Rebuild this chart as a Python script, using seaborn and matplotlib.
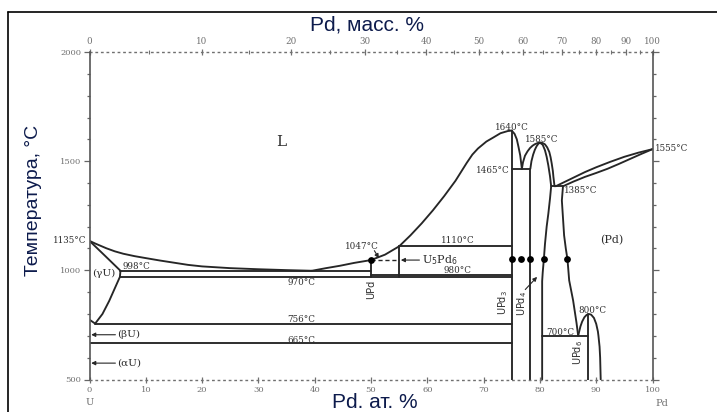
import numpy as np
import pandas as pd
import matplotlib
matplotlib.use("Agg")
import matplotlib.pyplot as plt
import seaborn as sns
from matplotlib.lines import Line2D

# ---------------- data (x = at.% Pd, T = °C) ----------------
liquidus_U = [(0, 1135), (1, 1123), (2, 1112), (3, 1101), (4.5, 1087), (6, 1076), (8, 1065),
              (10, 1056), (12.5, 1045), (15, 1035), (17.5, 1025), (20, 1018), (25, 1010),
              (30, 1005), (35, 1001), (39.5, 998)]
gammaU_boundary = [(0, 1135), (2.7, 1068), (5.5, 998), (5.4, 970), (4.5, 918),
                   (3.5, 860), (2.3, 800), (1, 756)]
betaU_gammaU = [(0, 774), (1, 756)]
liquidus_mid = [(39.5, 998), (42, 1010), (44.5, 1021), (47, 1034), (50, 1047), (52.5, 1072),
                (55, 1110), (57, 1160), (59, 1215), (61, 1275), (63, 1340), (65, 1410),
                (67, 1492), (68, 1530), (69, 1558), (70.5, 1590), (71.7, 1608), (73, 1628),
                (74.3, 1638), (75, 1640)]
liquidus_UPd3_right = [(75, 1640), (75.5, 1625), (75.9, 1600), (76.2, 1565), (76.5, 1527),
                       (76.8, 1465)]
dome_liquidus = [(76.8, 1465), (77.0, 1495), (77.35, 1525), (77.8, 1545), (78.24, 1560),
                 (78.7, 1571), (79.13, 1578), (79.6, 1583), (80.0, 1585), (80.5, 1583),
                 (80.9, 1577), (81.3, 1563), (81.67, 1542), (81.9, 1518), (82.1, 1489),
                 (82.3, 1455), (82.4, 1428), (82.6, 1385)]
dome_solidus_left = [(78.3, 1465), (78.5, 1500), (78.8, 1530), (79.1, 1552), (79.4, 1568),
                     (79.7, 1579), (80.0, 1585)]
Pd_left_boundary = [(80.0, 1585), (80.5, 1575), (80.9, 1550), (81.2, 1520), (81.5, 1480),
                    (81.8, 1430), (82.0, 1385), (81.8, 1330), (81.5, 1260), (81.2, 1200),
                    (80.9, 1120), (80.7, 1050), (80.5, 990), (80.4, 950), (80.4, 700),
                    (80.4, 500)]
Pd_right_boundary = [(84.1, 1385), (83.9, 1320), (84.1, 1240), (84.3, 1160), (84.6, 1100),
                     (84.9, 1050), (85.2, 954), (85.9, 862), (86.5, 760), (86.8, 700)]
UPd6_dome = [(86.8, 700), (87.0, 722), (87.2, 743), (87.5, 765), (87.9, 785), (88.3, 796),
             (88.7, 800), (89.1, 797), (89.6, 782), (90.0, 755), (90.3, 720), (90.4, 700),
             (90.6, 650), (90.7, 600), (90.8, 500)]
liquidus_Pd = [(82.8, 1385), (84, 1400), (86, 1425), (88, 1450), (90, 1472), (92.5, 1497),
               (95, 1520), (97.5, 1539), (100, 1555)]
solidus_Pd = [(84.1, 1385), (86, 1407), (88, 1428), (90, 1446), (92, 1465), (94, 1487),
              (96, 1510), (98, 1533), (100, 1555)]

# horizontal isotherms: (T, x_start, x_end)
isotherms = [(998, 5.5, 50), (970, 5.4, 75), (980, 50, 75), (1110, 55, 75),
             (1465, 75, 78.3), (1385, 82.0, 84.1), (756, 1, 75), (665, 0, 75),
             (700, 80.4, 88.6)]
# vertical compound lines: (x, T_top, T_bottom)
verticals = [(50, 1047, 970), (55, 1110, 970), (75, 1640, 500), (78.3, 1465, 500),
             (88.6, 800, 500)]
dashed_1047 = [(50, 1047), (55, 1047)]
dots_x = [50, 75, 76.6, 78.3, 80.7, 84.9]
dots_T = [1047, 1050, 1050, 1050, 1050, 1050]

# text labels: (x, T, text, ha)
temp_labels = [
    (75.0, 1655, "1640°C", "center"), (80.3, 1600, "1585°C", "center"),
    (100.5, 1558, "1555°C", "left"), (74.6, 1456, "1465°C", "right"),
    (84.2, 1367, "1385°C", "left"), (65.4, 1135, "1110°C", "center"),
    (65.4, 998, "980°C", "center"), (48.3, 1110, "1047°C", "center"),
    (-0.6, 1135, "1135°C", "right"), (5.9, 1017, "998°C", "left"),
    (37.6, 945, "970°C", "center"), (37.6, 775, "756°C", "center"),
    (37.6, 680, "665°C", "center"), (83.7, 717, "700°C", "center"),
    (89.4, 818, "800°C", "center"),
]
phase_labels = [(34, 1587, "L", 11), (92.7, 1138, "(Pd)", 8), (2.6, 985, "(γU)", 7.5),
                (4.9, 705, "(βU)", 7.5), (4.9, 575, "(αU)", 7.5)]
compound_labels = [(50.0, 912, "UPd"), (73.4, 853, "UPd$_3$"), (76.8, 850, "UPd$_4$"),
                   (86.8, 624, "UPd$_6$")]
bottom_ticks = list(range(0, 101, 10))
top_ticks_wt = list(range(0, 101, 10))
M_U, M_Pd = 238.03, 106.42

# ---------------- style ----------------
sns.set_theme(style="white")
plt.rcParams["font.family"] = ["DejaVu Serif"]
plt.rcParams["mathtext.fontset"] = "dejavusans"
LINE = "#262626"
TXT = "#2e2e2e"
TICK = "#707070"
LABEL = "#0d1b4c"

fig = plt.figure(figsize=(7.17, 4.12), dpi=100)
ax = fig.add_axes([89.5 / 717, 32.5 / 412, 563 / 717, 327.5 / 412])

curves = {
    "liquidus_U": liquidus_U, "gammaU": gammaU_boundary, "bg": betaU_gammaU,
    "liq_mid": liquidus_mid, "liq3r": liquidus_UPd3_right, "dome_l": dome_liquidus,
    "dome_s": dome_solidus_left, "pd_left": Pd_left_boundary, "pd_right": Pd_right_boundary,
    "upd6": UPd6_dome, "liq_pd": liquidus_Pd, "sol_pd": solidus_Pd,
}
for i, (t, x0, x1) in enumerate(isotherms):
    curves[f"iso{i}"] = [(x0, t), (x1, t)]
for i, (x, t0, t1) in enumerate(verticals):
    curves[f"vert{i}"] = [(x, t0), (x, t1)]

rows = []
for name, pts in curves.items():
    for k, (x, t) in enumerate(pts):
        rows.append((name, k, x, t))
df = pd.DataFrame(rows, columns=["curve", "order", "x", "T"])
sns.lineplot(data=df, x="x", y="T", units="curve", estimator=None, sort=False,
             color=LINE, lw=1.35, ax=ax, legend=False)

dd = pd.DataFrame(dashed_1047, columns=["x", "T"])
sns.lineplot(data=dd, x="x", y="T", color=LINE, lw=1.0, linestyle=(0, (3, 2)),
             ax=ax, legend=False, sort=False)
sns.scatterplot(x=dots_x, y=dots_T, color="black", s=24, ax=ax, zorder=5,
                edgecolor="black", linewidth=0)

ax.set_xlim(0, 100)
ax.set_ylim(500, 2000)
ax.set_xlabel("")
ax.set_ylabel("")

# text
for x, t, s, ha in temp_labels:
    ax.text(x, t, s, ha=ha, va="center", fontsize=6.3, color=TXT, family="DejaVu Serif")
for x, t, s, fs in phase_labels:
    ax.text(x, t, s, ha="left" if s in ("(βU)", "(αU)") else "center", va="center",
            fontsize=fs, color=TXT, family="DejaVu Serif")
for x, t, s in compound_labels:
    ax.text(x, t, s, ha="center", va="center", rotation=90, fontsize=7, color=TXT,
            family="DejaVu Sans")
ax.text(59.0, 1045, "U$_5$Pd$_6$", ha="left", va="center", fontsize=8, color=TXT)
ax.text(0, 395, "U", ha="center", va="center", fontsize=7, color=TICK, clip_on=False)
ax.text(101.6, 390, "Pd", ha="center", va="center", fontsize=7, color=TICK, clip_on=False)

arrow = dict(arrowstyle="-|>", lw=0.8, color=LINE, mutation_scale=6, shrinkA=0, shrinkB=0)
ax.annotate("", xy=(0.3, 705), xytext=(4.6, 705), arrowprops=arrow)
ax.annotate("", xy=(0.3, 575), xytext=(4.6, 575), arrowprops=arrow)
ax.annotate("", xy=(55.3, 1047), xytext=(58.6, 1047), arrowprops=arrow)
ax.annotate("", xy=(79.5, 970), xytext=(77.4, 912), arrowprops=arrow)
ax.annotate("", xy=(51.4, 1056), xytext=(50.6, 1090), arrowprops=arrow)

# axes / ticks
for side in ("left", "right"):
    ax.spines[side].set_color("#555555")
    ax.spines[side].set_linewidth(1.2)
ax.spines["top"].set_visible(False)
ax.spines["bottom"].set_color(TICK)
ax.spines["bottom"].set_linewidth(1.0)
ax.spines["bottom"].set_linestyle((0, (1, 3)))

ax.set_yticks([500, 1000, 1500, 2000])
ax.set_yticks(np.arange(500, 2001, 100), minor=True)
ax.tick_params(axis="y", which="both", left=True, right=True, labelright=False,
               direction="out", color="#666666", labelcolor=TICK, labelsize=6, width=0.9)
ax.tick_params(axis="y", which="major", length=4, pad=2)
ax.tick_params(axis="y", which="minor", length=2.5)
ax.set_xticks(bottom_ticks)
ax.tick_params(axis="x", which="major", bottom=True, direction="inout", length=4,
               color=TICK, labelcolor=TICK, labelsize=6, width=0.9, pad=3)
for lab in ax.get_yticklabels() + ax.get_xticklabels():
    lab.set_family("DejaVu Serif")


def at2wt(x):
    x = np.asarray(x, dtype=float)
    with np.errstate(all="ignore"):
        return 100 * x * M_Pd / (x * M_Pd + (100 - x) * M_U)


def wt2at(w):
    w = np.asarray(w, dtype=float)
    with np.errstate(all="ignore"):
        a = w / M_Pd
        b = (100 - w) / M_U
        return 100 * a / (a + b)


sec = ax.secondary_xaxis("top", functions=(at2wt, wt2at))
sec.set_xticks(top_ticks_wt)
sec.set_xticks(list(range(5, 100, 10)), minor=True)
sec.spines["top"].set_color(TICK)
sec.spines["top"].set_linewidth(1.0)
sec.spines["top"].set_linestyle((0, (1, 3)))
sec.tick_params(axis="x", which="major", direction="inout", length=4, color=TICK,
                labelcolor=TICK, labelsize=6.3, width=0.9, pad=2)
sec.tick_params(axis="x", which="minor", direction="inout", length=2.5, color=TICK, width=0.8)
for lab in sec.get_xticklabels():
    lab.set_family("DejaVu Serif")

# axis titles
fig.text(367 / 717, 1 - 25 / 412, "Pd, масс. %", ha="center", va="center", fontsize=15,
         family="Liberation Sans", color=LABEL)
fig.text(375 / 717, 1 - 403 / 412, "Pd. ат. %", ha="center", va="center", fontsize=15,
         family="Liberation Sans", color=LABEL)
fig.text(34 / 717, 1 - 200 / 412, "Температура, °C", ha="center", va="center", fontsize=14,
         rotation=90, family="Liberation Sans", color=LABEL)

# outer frame (left and top edges visible)
fig.add_artist(Line2D([8 / 717, 8 / 717], [0, 1 - 12 / 412], transform=fig.transFigure,
                      color="black", lw=1.2))
fig.add_artist(Line2D([8 / 717, 1], [1 - 12 / 412, 1 - 12 / 412], transform=fig.transFigure,
                      color="black", lw=1.2))

fig.savefig("out.png", dpi=100, facecolor="white")
